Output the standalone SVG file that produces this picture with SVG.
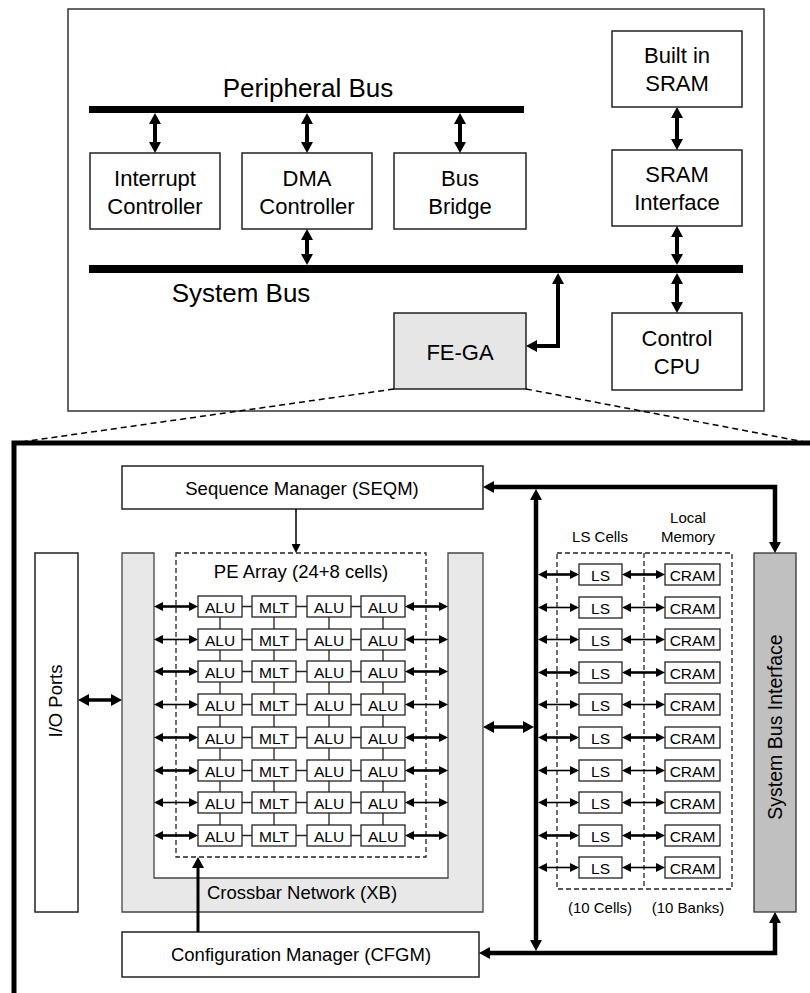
<svg xmlns="http://www.w3.org/2000/svg" width="810" height="993" viewBox="0 0 810 993">
<style>
text{font-family:"Liberation Sans",Arial,Helvetica,sans-serif;fill:#000;text-anchor:middle}
.t26{font-size:26px}
.t22{font-size:22px}
.t18{font-size:18.5px}
.t15{font-size:15px}
.c14{font-size:15.5px}
.box{fill:#fff;stroke:#222;stroke-width:1.5}
.cell{fill:#fff;stroke:#222;stroke-width:1.3}
.bus{fill:#000}
.dash{fill:none;stroke:#222;stroke-width:1.3;stroke-dasharray:5 3}
.big{fill:none;stroke:#000;stroke-width:4;marker-start:url(#mb);marker-end:url(#mb)}
.bb{fill:none;stroke:#000;stroke-width:4.5;marker-start:url(#mb);marker-end:url(#mb)}
.a2{fill:none;stroke:#000;stroke-width:2.6;marker-start:url(#ms);marker-end:url(#ms)}
.a1{fill:none;stroke:#000;stroke-width:1.6;marker-start:url(#ms);marker-end:url(#ms)}
.lnk{fill:none;stroke:#222;stroke-width:1.3}
</style>
<defs>
<marker id="mb" viewBox="0 0 11 12" markerWidth="11" markerHeight="12" refX="4" refY="6" orient="auto-start-reverse" markerUnits="userSpaceOnUse"><path d="M0,0 L11,6 L0,12 z" fill="#000"/></marker>
<marker id="ms" viewBox="0 0 9 9" markerWidth="9" markerHeight="9" refX="3" refY="4.5" orient="auto-start-reverse" markerUnits="userSpaceOnUse"><path d="M0,0 L9,4.5 L0,9 z" fill="#000"/></marker>
</defs>

<!-- Top system -->
<rect x="68" y="9" width="696" height="402" fill="#fff" stroke="#333" stroke-width="1.5"/>
<g id="peripheral-bus"><rect class="bus" x="89" y="106" width="435" height="7"/><text class="t26" x="308" y="97">Peripheral Bus</text></g>
<g id="system-bus"><rect class="bus" x="89" y="265" width="654" height="8"/><text class="t26" x="241" y="302">System Bus</text></g>
<g id="interrupt"><rect class="box" x="90" y="153" width="130" height="76"/><text class="t22" x="155" y="186">Interrupt</text><text class="t22" x="155" y="214">Controller</text></g>
<g id="dma"><rect class="box" x="242" y="153" width="130" height="76"/><text class="t22" x="307" y="186">DMA</text><text class="t22" x="307" y="214">Controller</text></g>
<g id="bus-bridge"><rect class="box" x="394" y="153" width="132" height="76"/><text class="t22" x="460" y="186">Bus</text><text class="t22" x="460" y="214">Bridge</text></g>
<g id="built-in-sram"><rect class="box" x="612" y="31" width="130" height="76"/><text class="t22" x="677" y="63">Built in</text><text class="t22" x="677" y="91">SRAM</text></g>
<g id="sram-interface"><rect class="box" x="612" y="150" width="130" height="76"/><text class="t22" x="677" y="182">SRAM</text><text class="t22" x="677" y="210">Interface</text></g>
<g id="control-cpu"><rect class="box" x="612" y="313" width="130" height="77"/><text class="t22" x="677" y="346">Control</text><text class="t22" x="677" y="374">CPU</text></g>
<g id="fe-ga"><rect class="box" x="394" y="313" width="132" height="76" style="fill:#e6e6e6"/><text class="t22" x="460" y="360">FE-GA</text></g>

<!-- Expansion frame -->
<g id="zoom-lines" fill="none" stroke="#000" stroke-width="1.5" stroke-dasharray="6 4">
<path d="M394,389 L14,443"/><path d="M526,389 L810,443"/>
</g>
<path d="M14,993 V443 H810" fill="none" stroke="#000" stroke-width="5"/>

<!-- Bottom nodes -->
<g id="seqm"><rect class="box" x="122" y="466" width="361" height="43"/><text class="t18" x="302" y="495">Sequence Manager (SEQM)</text></g>
<g id="io-ports"><rect class="box" x="35" y="553" width="43" height="359"/><text class="t18" transform="translate(62,701) rotate(-90)">I/O Ports</text></g>
<g id="crossbar"><path d="M122,553 H154 V878 H448 V553 H483 V912 H122 Z" fill="#e8e8e8" stroke="#444" stroke-width="1.3"/><text class="t18" x="302" y="899">Crossbar Network (XB)</text></g>
<g id="pe-array"><rect class="dash" x="176" y="553" width="250" height="304"/><text class="t18" x="301" y="578">PE Array (24+8 cells)</text></g>
<g id="cfgm"><rect class="box" x="122" y="932" width="357" height="45"/><text class="t18" x="301" y="961">Configuration Manager (CFGM)</text></g>
<g id="sbi"><rect x="754" y="553" width="42" height="359" fill="#c0c0c0" stroke="#333" stroke-width="1.3"/><text class="t18" style="font-size:19.5px" transform="translate(782,727) rotate(-90)">System Bus Interface</text></g>
<g id="ls-cells"><path class="dash" d="M557,553 H732 V889 H557 Z M644,553 V889"/><text class="t15" x="600" y="542">LS Cells</text><text class="t15" x="600" y="913">(10 Cells)</text></g>
<g id="local-memory"><text class="t15" x="688" y="523">Local</text><text class="t15" x="688" y="542">Memory</text><text class="t15" x="688" y="913">(10 Banks)</text></g>

<!-- PE cells -->
<g id="pe-cells">
<g id="r1c1"><rect class="cell" x="198" y="596" width="44" height="21"/><text class="c14" x="220" y="613">ALU</text></g>
<g id="r1c2"><rect class="cell" x="252" y="596" width="44" height="21"/><text class="c14" x="274" y="613">MLT</text></g>
<g id="r1c3"><rect class="cell" x="307" y="596" width="44" height="21"/><text class="c14" x="329" y="613">ALU</text></g>
<g id="r1c4"><rect class="cell" x="361" y="596" width="44" height="21"/><text class="c14" x="383" y="613">ALU</text></g>
<g id="r2c1"><rect class="cell" x="198" y="629" width="44" height="21"/><text class="c14" x="220" y="646">ALU</text></g>
<g id="r2c2"><rect class="cell" x="252" y="629" width="44" height="21"/><text class="c14" x="274" y="646">MLT</text></g>
<g id="r2c3"><rect class="cell" x="307" y="629" width="44" height="21"/><text class="c14" x="329" y="646">ALU</text></g>
<g id="r2c4"><rect class="cell" x="361" y="629" width="44" height="21"/><text class="c14" x="383" y="646">ALU</text></g>
<g id="r3c1"><rect class="cell" x="198" y="661" width="44" height="21"/><text class="c14" x="220" y="678">ALU</text></g>
<g id="r3c2"><rect class="cell" x="252" y="661" width="44" height="21"/><text class="c14" x="274" y="678">MLT</text></g>
<g id="r3c3"><rect class="cell" x="307" y="661" width="44" height="21"/><text class="c14" x="329" y="678">ALU</text></g>
<g id="r3c4"><rect class="cell" x="361" y="661" width="44" height="21"/><text class="c14" x="383" y="678">ALU</text></g>
<g id="r4c1"><rect class="cell" x="198" y="694" width="44" height="21"/><text class="c14" x="220" y="711">ALU</text></g>
<g id="r4c2"><rect class="cell" x="252" y="694" width="44" height="21"/><text class="c14" x="274" y="711">MLT</text></g>
<g id="r4c3"><rect class="cell" x="307" y="694" width="44" height="21"/><text class="c14" x="329" y="711">ALU</text></g>
<g id="r4c4"><rect class="cell" x="361" y="694" width="44" height="21"/><text class="c14" x="383" y="711">ALU</text></g>
<g id="r5c1"><rect class="cell" x="198" y="727" width="44" height="21"/><text class="c14" x="220" y="744">ALU</text></g>
<g id="r5c2"><rect class="cell" x="252" y="727" width="44" height="21"/><text class="c14" x="274" y="744">MLT</text></g>
<g id="r5c3"><rect class="cell" x="307" y="727" width="44" height="21"/><text class="c14" x="329" y="744">ALU</text></g>
<g id="r5c4"><rect class="cell" x="361" y="727" width="44" height="21"/><text class="c14" x="383" y="744">ALU</text></g>
<g id="r6c1"><rect class="cell" x="198" y="760" width="44" height="21"/><text class="c14" x="220" y="777">ALU</text></g>
<g id="r6c2"><rect class="cell" x="252" y="760" width="44" height="21"/><text class="c14" x="274" y="777">MLT</text></g>
<g id="r6c3"><rect class="cell" x="307" y="760" width="44" height="21"/><text class="c14" x="329" y="777">ALU</text></g>
<g id="r6c4"><rect class="cell" x="361" y="760" width="44" height="21"/><text class="c14" x="383" y="777">ALU</text></g>
<g id="r7c1"><rect class="cell" x="198" y="792" width="44" height="21"/><text class="c14" x="220" y="809">ALU</text></g>
<g id="r7c2"><rect class="cell" x="252" y="792" width="44" height="21"/><text class="c14" x="274" y="809">MLT</text></g>
<g id="r7c3"><rect class="cell" x="307" y="792" width="44" height="21"/><text class="c14" x="329" y="809">ALU</text></g>
<g id="r7c4"><rect class="cell" x="361" y="792" width="44" height="21"/><text class="c14" x="383" y="809">ALU</text></g>
<g id="r8c1"><rect class="cell" x="198" y="825" width="44" height="21"/><text class="c14" x="220" y="842">ALU</text></g>
<g id="r8c2"><rect class="cell" x="252" y="825" width="44" height="21"/><text class="c14" x="274" y="842">MLT</text></g>
<g id="r8c3"><rect class="cell" x="307" y="825" width="44" height="21"/><text class="c14" x="329" y="842">ALU</text></g>
<g id="r8c4"><rect class="cell" x="361" y="825" width="44" height="21"/><text class="c14" x="383" y="842">ALU</text></g>
</g>

<!-- LS / CRAM cells -->
<g id="ls-cram">
<g id="ls1"><rect class="cell" x="579" y="564" width="43" height="21"/><text class="c14" x="600.5" y="581">LS</text></g>
<g id="cram1"><rect class="cell" x="665" y="564" width="55" height="21"/><text class="c14" x="692.5" y="581">CRAM</text></g>
<g id="ls2"><rect class="cell" x="579" y="597" width="43" height="21"/><text class="c14" x="600.5" y="614">LS</text></g>
<g id="cram2"><rect class="cell" x="665" y="597" width="55" height="21"/><text class="c14" x="692.5" y="614">CRAM</text></g>
<g id="ls3"><rect class="cell" x="579" y="629" width="43" height="21"/><text class="c14" x="600.5" y="646">LS</text></g>
<g id="cram3"><rect class="cell" x="665" y="629" width="55" height="21"/><text class="c14" x="692.5" y="646">CRAM</text></g>
<g id="ls4"><rect class="cell" x="579" y="662" width="43" height="21"/><text class="c14" x="600.5" y="679">LS</text></g>
<g id="cram4"><rect class="cell" x="665" y="662" width="55" height="21"/><text class="c14" x="692.5" y="679">CRAM</text></g>
<g id="ls5"><rect class="cell" x="579" y="694" width="43" height="21"/><text class="c14" x="600.5" y="711">LS</text></g>
<g id="cram5"><rect class="cell" x="665" y="694" width="55" height="21"/><text class="c14" x="692.5" y="711">CRAM</text></g>
<g id="ls6"><rect class="cell" x="579" y="727" width="43" height="21"/><text class="c14" x="600.5" y="744">LS</text></g>
<g id="cram6"><rect class="cell" x="665" y="727" width="55" height="21"/><text class="c14" x="692.5" y="744">CRAM</text></g>
<g id="ls7"><rect class="cell" x="579" y="760" width="43" height="21"/><text class="c14" x="600.5" y="777">LS</text></g>
<g id="cram7"><rect class="cell" x="665" y="760" width="55" height="21"/><text class="c14" x="692.5" y="777">CRAM</text></g>
<g id="ls8"><rect class="cell" x="579" y="792" width="43" height="21"/><text class="c14" x="600.5" y="809">LS</text></g>
<g id="cram8"><rect class="cell" x="665" y="792" width="55" height="21"/><text class="c14" x="692.5" y="809">CRAM</text></g>
<g id="ls9"><rect class="cell" x="579" y="825" width="43" height="21"/><text class="c14" x="600.5" y="842">LS</text></g>
<g id="cram9"><rect class="cell" x="665" y="825" width="55" height="21"/><text class="c14" x="692.5" y="842">CRAM</text></g>
<g id="ls10"><rect class="cell" x="579" y="857" width="43" height="21"/><text class="c14" x="600.5" y="874">LS</text></g>
<g id="cram10"><rect class="cell" x="665" y="857" width="55" height="21"/><text class="c14" x="692.5" y="874">CRAM</text></g>
</g>

<!-- Connectors -->
<g id="connectors">
<path class="big" d="M155,120 V146"/>
<path class="big" d="M307,120 V146"/>
<path class="big" d="M460,120 V146"/>
<path class="big" d="M307,236 V258"/>
<path class="big" d="M677,114 V143"/>
<path class="big" d="M677,233 V258"/>
<path class="big" d="M677,280 V306"/>
<path class="big" d="M533,346 H558 V280"/>

<path d="M296,509 V547" fill="none" stroke="#000" stroke-width="1.5" marker-end="url(#ms)"/>
<path d="M198,932 V864" fill="none" stroke="#000" stroke-width="3" marker-end="url(#mb)"/>
<path class="bb" d="M536,496 V944"/>
<path class="bb" d="M490,487 H775 V546"/>
<path class="bb" d="M486,953 H775 V919"/>
<path class="bb" d="M490,727 H527" style="stroke-width:3.5"/>
<path class="bb" d="M85,700 H115" style="stroke-width:3.5"/>

<path class="lnk" d="M242,606.5 H252 M296,606.5 H307 M351,606.5 H361 M242,639.5 H252 M296,639.5 H307 M351,639.5 H361 M242,671.5 H252 M296,671.5 H307 M351,671.5 H361 M242,704.5 H252 M296,704.5 H307 M351,704.5 H361 M242,737.5 H252 M296,737.5 H307 M351,737.5 H361 M242,770.5 H252 M296,770.5 H307 M351,770.5 H361 M242,802.5 H252 M296,802.5 H307 M351,802.5 H361 M242,835.5 H252 M296,835.5 H307 M351,835.5 H361"/>
<path class="lnk" d="M220,617 V629 M274,617 V629 M329,617 V629 M383,617 V629 M220,650 V661 M274,650 V661 M329,650 V661 M383,650 V661 M220,682 V694 M274,682 V694 M329,682 V694 M383,682 V694 M220,715 V727 M274,715 V727 M329,715 V727 M383,715 V727 M220,748 V760 M274,748 V760 M329,748 V760 M383,748 V760 M220,781 V792 M274,781 V792 M329,781 V792 M383,781 V792 M220,813 V825 M274,813 V825 M329,813 V825 M383,813 V825"/>

<path class="a2" d="M160,606.5 H192"/><path class="a2" d="M411,606.5 H442"/>
<path class="a1" d="M160,639.5 H192"/><path class="a1" d="M411,639.5 H442"/>
<path class="a2" d="M160,671.5 H192"/><path class="a2" d="M411,671.5 H442"/>
<path class="a1" d="M160,704.5 H192"/><path class="a1" d="M411,704.5 H442"/>
<path class="a2" d="M160,737.5 H192"/><path class="a2" d="M411,737.5 H442"/>
<path class="a2" d="M160,770.5 H192"/><path class="a2" d="M411,770.5 H442"/>
<path class="a1" d="M160,802.5 H192"/><path class="a1" d="M411,802.5 H442"/>
<path class="a2" d="M160,835.5 H192"/><path class="a2" d="M411,835.5 H442"/>

<path class="a2" d="M544,574.5 H573"/><path class="a2" d="M628,574.5 H659"/>
<path class="a1" d="M544,607.5 H573"/><path class="a1" d="M628,607.5 H659"/>
<path class="a1" d="M544,639.5 H573"/><path class="a1" d="M628,639.5 H659"/>
<path class="a2" d="M544,672.5 H573"/><path class="a2" d="M628,672.5 H659"/>
<path class="a1" d="M544,704.5 H573"/><path class="a1" d="M628,704.5 H659"/>
<path class="a2" d="M544,737.5 H573"/><path class="a2" d="M628,737.5 H659"/>
<path class="a1" d="M544,770.5 H573"/><path class="a1" d="M628,770.5 H659"/>
<path class="a1" d="M544,802.5 H573"/><path class="a1" d="M628,802.5 H659"/>
<path class="a2" d="M544,835.5 H573"/><path class="a2" d="M628,835.5 H659"/>
<path class="a1" d="M544,867.5 H573"/><path class="a1" d="M628,867.5 H659"/>
</g>
</svg>
